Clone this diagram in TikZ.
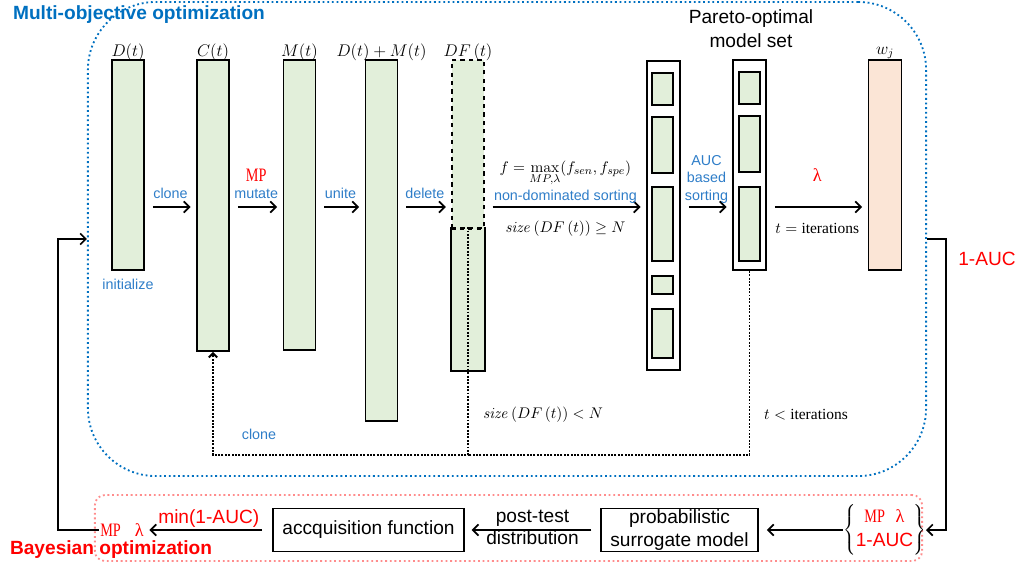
\documentclass[tikz,border=0pt]{standalone}
\usepackage[no-math]{fontspec}
\setmainfont{Liberation Sans}
\newfontfamily\tnr{Liberation Serif}
\newfontfamily\mpfont[FakeStretch=0.75]{Liberation Serif}
\usetikzlibrary{arrows.meta,positioning}
\definecolor{colgreen}{RGB}{226,239,218}
\definecolor{colpeach}{RGB}{251,229,214}
\definecolor{lblue}{RGB}{46,125,200}
\definecolor{tblue}{RGB}{0,112,192}
\definecolor{pinkc}{RGB}{255,140,140}
\newcommand{\mpt}{\textcolor{red}{\fontsize{13.5}{16}\mpfont MP}}
\newcommand{\lam}{\textcolor{red}{\fontsize{13}{16}\tnr λ}}

\begin{document}
\begin{tikzpicture}[x=0.025cm, y=-0.025cm,
  col/.style={draw=black, fill=colgreen, line width=1.2pt, rectangle,
    minimum width=0.8cm, inner sep=0pt},
  colu/.style={draw=black, fill=colgreen, line width=0.9pt, dashed, rectangle,
    minimum width=0.8cm, inner sep=0pt},
  outb/.style={draw=black, fill=white, line width=1.2pt, rectangle,
    minimum width=0.825cm, inner sep=0pt},
  inb/.style={draw=black, fill=colgreen, line width=1.2pt, rectangle,
    minimum width=0.525cm, inner sep=0pt},
  wcol/.style={draw=black, fill=colpeach, line width=1.2pt, rectangle,
    minimum width=0.825cm, inner sep=0pt},
  bigtxt/.style={font=\fontsize{13.6}{17}\selectfont, align=center},
  bx/.style={draw=black, line width=1.2pt, rectangle, align=center, inner sep=0pt,
    font=\fontsize{13.6}{17}\selectfont},
  ttl/.style={font=\fontsize{13.6}{16}\selectfont\bfseries},
  mth/.style={font=\fontsize{12}{14}\selectfont, inner sep=1pt},
  mths/.style={font=\fontsize{11}{13}\selectfont, inner sep=1pt},
  lab/.style={font=\fontsize{10.2}{12.5}\selectfont, text=lblue, align=center, inner sep=2pt},
  ar/.style={-{Straight Barb[length=4pt,width=8pt]}, line width=1.2pt},
  gp/.style={shorten <=0.2cm, shorten >=0.14cm},
  fb/.style={densely dotted, line width=1.4pt},
]
\useasboundingbox (0,0) rectangle (1017,567);

%==== Multi-objective optimization ====
\node[draw=tblue, dotted, line width=1.3pt, rounded corners=1.7cm,
  minimum width=20.95cm, minimum height=11.85cm] (mobox) at (507,239) {};
\node[ttl, text=tblue] (motitle) at (139,15) {Multi-objective optimization};

\node[col, minimum height=5.25cm] (d) at (128,165) {};
\node[mth, above=-2pt of d] (dlab) {$D(t)$};
\node[lab, below=4pt of d] (init) {initialize};
\node[col, minimum height=7.275cm] (c) at (213,205.5) {};
\node[mth, above=-2pt of c] (clab) {$C(t)$};
\node[col, minimum height=7.25cm] (m) at (299.5,205) {};
\node[mth, above=-2pt of m] (mlab) {$M(t)$};
\node[col, minimum height=9.025cm] (dm) at (381.5,240.5) {};
\node[mth, above=-2pt of dm] (dmlab) {$D(t)+M(t)$};
\node[col, draw=none, minimum height=3.55cm] (dfl) at (468,299) {};
\draw[line width=1.2pt] (dfl.north west) |- (dfl.south east) -- (dfl.north east);
\node[colu, minimum height=4.2cm] (dfu) at (468,144) {};
\draw[dashed, line width=1.4pt] (dfu.south west) -- (dfu.south east);
\node[mth, above=-2pt of dfu] (dflab) {$DF\,(t)$};

\coordinate (ay) at (0,207);
\draw[ar, gp] (d.east |- ay) -- node[lab, above=3pt] (l1) {clone} (c.west |- ay);
\draw[ar, gp] (c.east |- ay) -- node[lab, above=3pt] (l2) {\mpt\\mutate} (m.west |- ay);
\draw[ar, gp] (m.east |- ay) -- node[lab, above=3pt] (l3) {unite} (dm.west |- ay);
\draw[ar, gp] (dm.east |- ay) -- node[lab, above=3pt] (l4) {delete} (dfu.west |- ay);

%==== Pareto-optimal model set ====
\node[outb, minimum height=7.725cm] (p1) at (663.5,215.5) {};
\node[inb, minimum height=0.8cm] (p1a) at (662.5,89) {};
\node[inb, minimum height=1.4cm] (p1b) at (662.5,145) {};
\node[inb, minimum height=1.85cm] (p1c) at (662.5,224) {};
\node[inb, minimum height=0.45cm] (p1d) at (662.5,285) {};
\node[inb, minimum height=1.225cm] (p1e) at (662.5,333.5) {};
\node[outb, minimum height=5.25cm] (p2) at (749.5,165) {};
\node[inb, minimum height=0.8cm] (p2a) at (749.5,88) {};
\node[inb, minimum height=1.4cm] (p2b) at (749.5,144) {};
\node[inb, minimum height=1.85cm] (p2c) at (749.5,224) {};
\node[bigtxt] (pareto) at (751,29) {Pareto-optimal\\model set};
\node[wcol, minimum height=5.25cm] (w) at (885,165) {};
\node[mth, above=-1pt of w] (wlab) {$w_j$};

\draw[ar, gp] (dfu.east |- ay) -- node[lab, above] (l5) {non-dominated sorting}
  node[mths, below=8pt] (l5b) {$\mathit{size}\,(DF\,(t))\geq N$} (p1.west |- ay);
\node[mths, above=-1pt of l5] (l5f) {$f=\max\limits_{MP,\lambda}(f_{sen},f_{spe})$};
\draw[ar, gp] (p1.east |- ay) -- node[lab, above] (l6) {AUC\\based\\sorting} (p2.west |- ay);
\draw[ar, gp] (p2.east |- ay) -- node[above=0.5cm] (l7) {\lam}
  node[mths, below=10pt] (l7b) {$t=\mbox{\tnr iterations}$} (w.west |- ay);

%==== feedback (dotted) ====
\coordinate (fb) at (0,455);
\draw[fb, -{Straight Barb[length=3pt,width=6pt]}] (dfl.north) -- (dfl.north |- fb) -| (c.south);
\draw[fb] (p2.south) -- (p2.south |- fb) -- (dfl.north |- fb);
\node[mths] (szl) at (543,415) {$\mathit{size}\,(DF\,(t))<N$};
\node[mths] (itl) at (806,415) {$t<\mbox{\tnr iterations}$};
\node[lab] (cl2) at (259,434) {clone};

%==== Bayesian optimization ====
\node[draw=pinkc, dotted, line width=1.3pt, rounded corners=0.25cm,
  minimum width=20.675cm, minimum height=1.65cm] (bobox) at (508.5,528) {};
\node[ttl, text=red] (botitle) at (111,550) {Bayesian optimization};
\node[bigtxt, inner sep=0pt] (brace) at (884.5,530)
  {$\left\{\begin{tabular}{@{}c@{}}\mpt\ \ \lam\\ \textcolor{red}{1-AUC}\end{tabular}\right\}$};
\node[bx, minimum width=3.925cm, minimum height=1.075cm] (prob) at (679.5,530) {probabilistic\\surrogate model};
\node[bx, minimum width=4.775cm, minimum height=1.075cm] (acq) at (368.5,530) {accquisition function};
\node[inner sep=1pt] (bmp) at (122,530) {\mpt\quad\lam};

\draw[ar, shorten >=0.2cm] (brace.west) -- (prob.east);
\draw[ar, shorten <=0.22cm, shorten >=0.17cm] (prob.west) --
  node[bigtxt, above, inner sep=2pt] (pt1) {post-test}
  node[bigtxt, below, inner sep=0pt] (pt2) {distribution} (acq.east);
\draw[ar, shorten <=0.25cm, shorten >=0.1cm] (acq.west) --
  node[bigtxt, text=red, above, inner sep=1pt] (mn) {min(1-AUC)} (bmp.east);

%==== loops between the two parts ====
\coordinate (lc) at (58,239);
\draw[ar] (bmp.west) -| (lc) |- (mobox.west);
\coordinate (rc) at (946,530);
\draw[ar] (mobox.east) -| (rc) -- (brace.east);
\node[bigtxt, text=red] (auc) at (987,259) {1-AUC};

\end{tikzpicture}
\end{document}
